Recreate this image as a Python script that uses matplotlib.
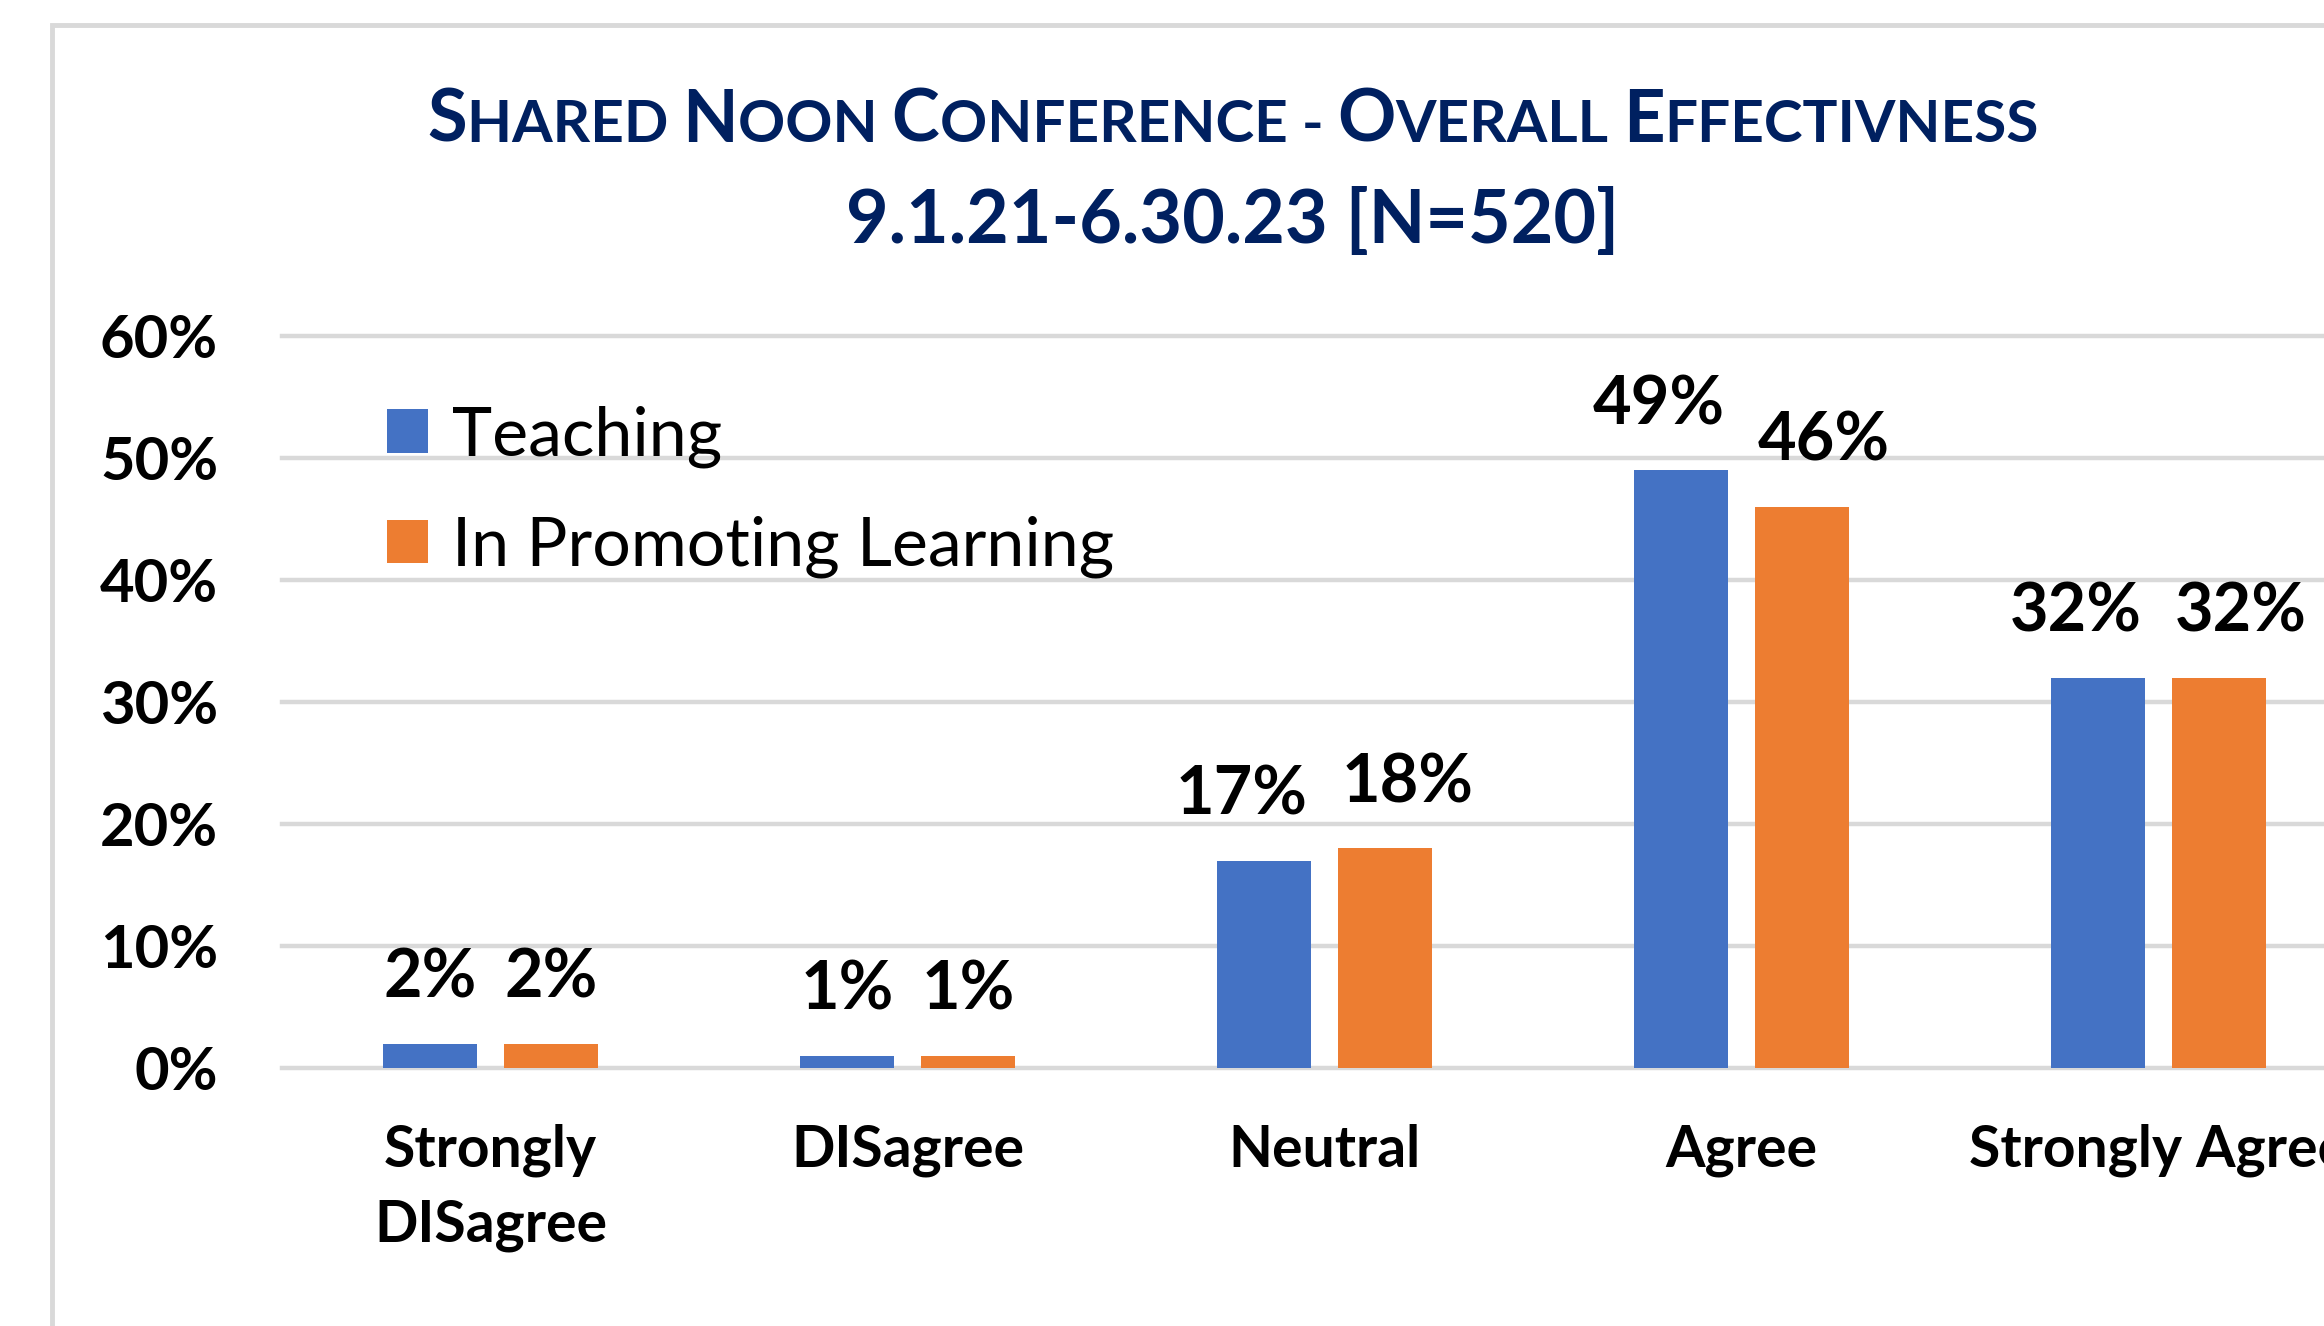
import matplotlib
matplotlib.use('Agg')
import matplotlib.pyplot as plt
from matplotlib.patches import Rectangle
from matplotlib.ticker import PercentFormatter
import numpy as np

categories = ['Strongly\nDISagree', 'DISagree', 'Neutral', 'Agree', 'Strongly Agree']
teaching = [0.02, 0.01, 0.17, 0.49, 0.32]
learning = [0.02, 0.01, 0.18, 0.46, 0.32]
series_names = ['Teaching', 'In Promoting Learning']
title_line1 = 'Shared Noon Conference - Overall Effectivness'
title_line2 = '9.1.21-6.30.23 [N=520]'
yticks = [0, 0.1, 0.2, 0.3, 0.4, 0.5, 0.6]

BLUE = '#4472C4'
ORANGE = '#ED7D31'
NAVY = '#002060'
GRID = '#D9D9D9'

plt.rcParams['font.family'] = ['Lato', 'DejaVu Sans']
plt.rcParams['font.weight'] = 'bold'

W, H = 2324, 1326
fig = plt.figure(figsize=(W / 100, H / 100), dpi=100)
ax = fig.add_axes([282 / W, 1 - 1068 / H, 2085 / W, (1068 - 336) / H])

x = np.arange(len(categories))
bw = 0.225
off = 0.145
b1 = ax.bar(x - off, teaching, bw, color=BLUE, label=series_names[0], zorder=3)
b2 = ax.bar(x + off, learning, bw, color=ORANGE, label=series_names[1], zorder=3)

# data labels, pushed apart a bit when they are wide (like excel does)
for bars, vals, side in ((b1, teaching, -1), (b2, learning, 1)):
    for rect, v in zip(bars, vals):
        nudge = 16 * side if v >= 0.1 else 0
        ax.annotate(f'{v:.0%}', (rect.get_x() + rect.get_width() / 2, v),
                    xytext=(nudge, 33), textcoords='offset points',
                    ha='center', va='baseline', fontsize=48,
                    annotation_clip=False)

ax.set_xlim(-0.5, 4.5)
ax.set_ylim(0, 0.6)
ax.set_yticks(yticks)
ax.yaxis.set_major_formatter(PercentFormatter(1.0, decimals=0))
ax.set_xticks(x, categories)
ax.tick_params(axis='y', length=0, pad=46, labelsize=43)
ax.tick_params(axis='x', length=0, pad=40, labelsize=41)
for lbl in ax.get_xticklabels():
    lbl.set_linespacing(1.5)
for s in ax.spines.values():
    s.set_visible(False)
ax.yaxis.grid(True, color=GRID, linewidth=3.2)
ax.set_axisbelow(True)
for gl in ax.get_ygridlines():
    gl.set_clip_on(False)

ax.legend(loc='upper left', bbox_to_anchor=(387 / W, 1 - 405 / H),
          bbox_transform=fig.transFigure, frameon=False,
          prop={'size': 49, 'weight': 'normal'},
          handlelength=0.6, handleheight=0.6, handletextpad=0.35,
          labelspacing=0.7, borderaxespad=0, borderpad=0)

# outer chart frame
fig.add_artist(Rectangle((52 / W, -0.2), 1.2, 1.2 - 25 / H, transform=fig.transFigure,
                         fill=False, edgecolor=GRID, linewidth=3.5, clip_on=False))

# small caps title, built from runs of big and small capitals
renderer = fig.canvas.get_renderer()


def run_width(s, size):
    t = fig.text(0, 0, s + '|', fontsize=size)
    w = t.get_window_extent(renderer).width
    t.set_text('|')
    w -= t.get_window_extent(renderer).width
    t.remove()
    return w


def small_caps(text, xc, yb, big, small):
    runs = []
    for ch in text:
        size = big if ch.isupper() else small
        if runs and runs[-1][1] == size:
            runs[-1][0] += ch.upper()
        else:
            runs.append([ch.upper(), size])
    widths = [run_width(s, sz) for s, sz in runs]
    xpix = xc * W - sum(widths) / 2
    for (s, sz), w in zip(runs, widths):
        fig.text(xpix / W, yb, s, fontsize=sz, color=NAVY, ha='left', va='baseline')
        xpix += w


small_caps(title_line1, 1233 / W, 1 - 142 / H, 52, 42)
fig.text(1233 / W, 1 - 243 / H, title_line2, fontsize=53, color=NAVY,
         ha='center', va='baseline')

fig.savefig('out.png', dpi=100)
